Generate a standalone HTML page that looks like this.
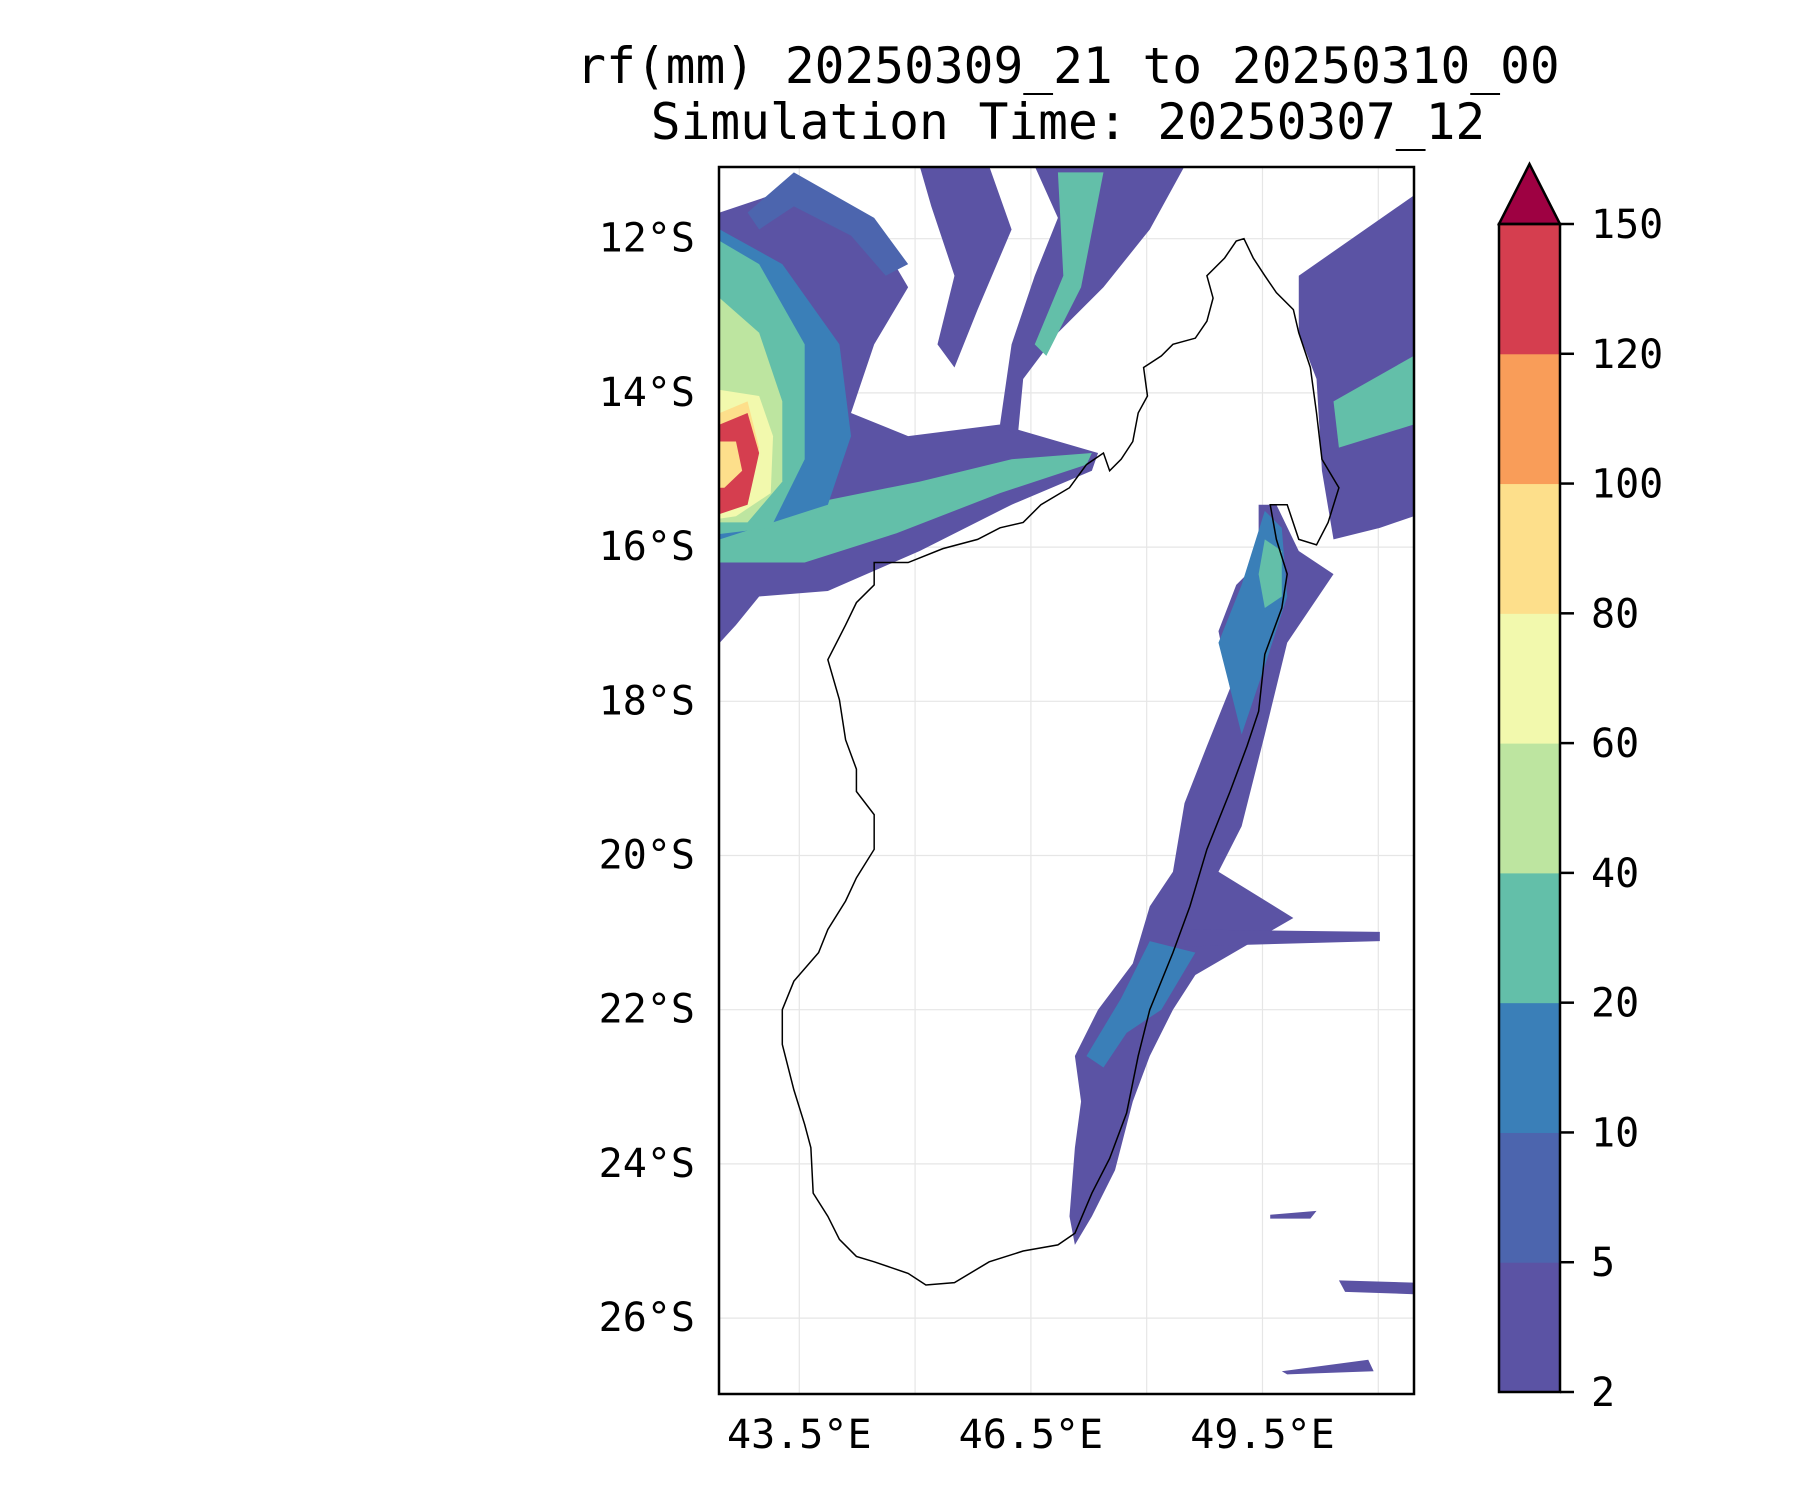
<!DOCTYPE html>
<html><head><meta charset="utf-8"><style>
html,body{margin:0;padding:0;background:#fff}
svg text{font-family:"DejaVu Sans Mono","Liberation Mono",monospace;fill:#000}
</style></head><body>
<svg id="chart" width="1800" height="1500" viewBox="0 0 1800 1500" xmlns="http://www.w3.org/2000/svg">
<text x="1068" y="83" font-size="49.5" text-anchor="middle">rf(mm) 20250309_21 to 20250310_00</text>
<text x="1068" y="139" font-size="49.5" text-anchor="middle">Simulation Time: 20250307_12</text>
<defs><clipPath id="axclip"><rect x="719" y="167" width="695" height="1227"/></clipPath></defs>
<g id="grid"></g>
<g id="rain" clip-path="url(#axclip)"></g>
<g id="coast" clip-path="url(#axclip)"></g>
<rect x="719" y="167" width="695" height="1227" fill="none" stroke="#000" stroke-width="2.5"/>
<g id="axes"></g>
<g id="cbar"></g>
</svg>
<script>
const levels=[2,5,10,20,40,60,80,100,120,150];
const levelColors=["#5b53a4","#4c65ae","#3a7fb8","#63bfa9","#bde5a0","#f2f9ad","#fddf8b","#f99d59","#d53e4f"];
const extendColor="#9e0142";
const latTicks=[12,14,16,18,20,22,24,26];
const lonTicks=[43.5,46.5,49.5];
const lonGrid=[43.5,45,46.5,48,49.5,51];
const coastline=[[49.26,12.0],[49.38,12.25],[49.53,12.48],[49.68,12.70],[49.90,12.92],[49.97,13.22],[50.12,13.67],[50.20,14.26],[50.27,14.86],[50.49,15.23],[50.35,15.68],[50.20,15.97],[49.97,15.90],[49.82,15.45],[49.60,15.45],[49.68,15.90],[49.82,16.35],[49.75,16.79],[49.53,17.39],[49.45,18.13],[49.30,18.58],[49.08,19.17],[48.78,19.92],[48.56,20.66],[48.34,21.26],[48.04,22.00],[47.89,22.60],[47.74,23.34],[47.52,23.93],[47.29,24.38],[47.07,24.90],[46.85,25.05],[46.40,25.13],[45.96,25.27],[45.51,25.54],[45.14,25.57],[44.91,25.42],[44.47,25.27],[44.24,25.20],[44.02,24.98],[43.87,24.68],[43.68,24.38],[43.65,23.79],[43.57,23.49],[43.43,23.04],[43.28,22.45],[43.28,22.00],[43.43,21.63],[43.75,21.26],[43.87,20.96],[44.10,20.59],[44.24,20.29],[44.47,19.92],[44.47,19.47],[44.24,19.17],[44.24,18.88],[44.10,18.50],[44.02,17.98],[43.87,17.46],[44.10,17.01],[44.24,16.72],[44.47,16.49],[44.47,16.20],[44.91,16.20],[45.36,16.02],[45.81,15.90],[46.10,15.75],[46.40,15.68],[46.63,15.45],[47.00,15.23],[47.22,14.93],[47.44,14.78],[47.52,15.01],[47.67,14.86],[47.82,14.63],[47.89,14.26],[48.01,14.04],[47.96,13.67],[48.19,13.52],[48.34,13.37],[48.63,13.29],[48.78,13.07],[48.86,12.77],[48.78,12.48],[49.01,12.25],[49.16,12.03]];
const rainLevels=[0,3,2,3,4,5,6,8,6,0,0,3,1,0,2,3,2,0,3,0,0,0,0];
const rainShapes=[
[[42.47,11.66],[43.57,11.29],[44.47,11.88],[44.91,12.63],[44.47,13.37],[44.17,14.26],[44.91,14.56],[46.10,14.41],[47.37,14.78],[47.29,15.01],[46.25,15.45],[45.06,16.05],[43.87,16.57],[42.98,16.64],[42.68,17.01],[42.47,17.24]],
[[42.47,15.45],[43.57,15.45],[45.06,15.15],[46.25,14.86],[47.29,14.78],[47.22,14.93],[46.10,15.30],[44.76,15.82],[43.57,16.20],[42.47,16.20]],
[[42.47,11.88],[43.28,12.33],[44.02,13.37],[44.17,14.56],[43.87,15.45],[42.47,15.90]],
[[42.47,12.03],[42.98,12.33],[43.57,13.37],[43.57,14.86],[43.13,15.75],[42.47,15.83]],
[[42.47,12.77],[42.98,13.22],[43.28,14.11],[43.28,15.15],[42.83,15.68],[42.47,15.68]],
[[42.47,13.96],[42.98,14.04],[43.16,14.56],[43.13,15.30],[42.68,15.60],[42.47,15.63]],
[[42.47,14.26],[42.83,14.11],[42.98,14.71],[42.83,15.33],[42.47,15.48]],
[[42.47,14.41],[42.83,14.26],[42.98,14.78],[42.83,15.45],[42.47,15.57]],
[[42.47,14.63],[42.68,14.63],[42.76,15.01],[42.53,15.23],[42.47,15.23]],
[[45.06,11.06],[45.96,11.06],[46.25,11.88],[45.81,12.92],[45.51,13.67],[45.29,13.37],[45.51,12.48],[45.21,11.58]],
[[46.55,11.06],[48.49,11.06],[48.04,11.88],[47.44,12.63],[46.85,13.22],[46.40,13.82],[46.33,14.56],[46.10,14.41],[46.25,13.37],[46.55,12.48],[46.85,11.73]],
[[46.85,11.14],[47.44,11.14],[47.15,12.63],[46.70,13.52],[46.55,13.37],[46.92,12.48]],
[[42.83,11.66],[43.43,11.14],[44.47,11.73],[44.91,12.33],[44.62,12.48],[44.17,11.96],[43.43,11.58],[42.98,11.88]],
[[49.45,15.45],[49.68,15.45],[49.97,16.05],[50.42,16.35],[49.82,17.24],[49.53,18.43],[49.23,19.62],[48.93,20.21],[49.90,20.81],[48.63,21.55],[48.34,22.00],[48.04,22.60],[47.82,23.19],[47.59,24.08],[47.29,24.68],[47.07,25.05],[47.00,24.68],[47.07,23.79],[47.15,23.19],[47.07,22.60],[47.37,22.00],[47.82,21.40],[48.04,20.66],[48.34,20.21],[48.49,19.32],[48.78,18.58],[49.08,17.83],[48.93,17.09],[49.16,16.49],[49.45,16.20]],
[[49.53,15.53],[49.75,15.75],[49.82,16.64],[49.53,17.54],[49.23,18.43],[49.08,17.83],[48.93,17.24],[49.23,16.49]],
[[49.53,15.90],[49.75,16.05],[49.75,16.64],[49.53,16.79],[49.45,16.35]],
[[48.04,21.11],[48.63,21.26],[48.19,22.00],[47.74,22.30],[47.44,22.75],[47.22,22.60],[47.67,21.85]],
[[49.97,12.48],[51.46,11.44],[51.46,15.60],[51.02,15.75],[50.42,15.90],[50.27,15.01],[50.20,13.82],[49.97,13.22]],
[[50.42,14.11],[51.46,13.52],[51.46,14.41],[50.49,14.71]],
[[50.49,25.51],[51.46,25.54],[51.46,25.69],[50.57,25.66]],
[[49.75,26.69],[50.87,26.54],[50.94,26.69],[49.82,26.73]],
[[49.60,24.66],[50.20,24.61],[50.12,24.71],[49.60,24.71]],
[[48.49,20.96],[51.02,20.99],[51.02,21.11],[48.49,21.18]]
];
const NS="http://www.w3.org/2000/svg";
const X=lon=>719+(lon-42.46)*77.2;
const Y=lat=>167+(lat-11.07)*77.1;
function mk(tag,attrs,parent){const e=document.createElementNS(NS,tag);for(const k in attrs)e.setAttribute(k,attrs[k]);parent.appendChild(e);return e;}
const grid=document.getElementById('grid'),rain=document.getElementById('rain'),coast=document.getElementById('coast'),axes=document.getElementById('axes'),cbar=document.getElementById('cbar');
latTicks.forEach(t=>{const l=mk('line',{x1:719,x2:1414,y1:Y(t),y2:Y(t),stroke:'#e6e6e6','stroke-width':1.2},grid);

});
lonGrid.forEach(t=>{const l=mk('line',{x1:X(t),x2:X(t),y1:167,y2:1394,stroke:'#e6e6e6','stroke-width':1.2},grid);

});
rainShapes.forEach((pts,i)=>{const p=mk('polygon',{points:pts.map(q=>X(q[0])+','+Y(q[1])).join(' '),fill:levelColors[rainLevels[i]]},rain);

});
const c=mk('polygon',{points:coastline.map(q=>X(q[0])+','+Y(q[1])).join(' '),fill:'none',stroke:'#000','stroke-width':1.5},coast);


latTicks.forEach(t=>{const tx=mk('text',{x:695,y:Y(t)+13,'font-size':40,'text-anchor':'end'},axes);tx.textContent=t+'°S';

});
lonTicks.forEach(t=>{const tx=mk('text',{x:X(t),y:1448,'font-size':40,'text-anchor':'middle'},axes);tx.textContent=t+'°E';

});
const cb0=1392,cbH=(1392-224)/9,cbL=1499,cbR=1560;
levelColors.forEach((col,i)=>{const r=mk('rect',{x:cbL,y:cb0-(i+1)*cbH,width:cbR-cbL,height:cbH+0.5,fill:col},cbar);

});
const tri=mk('polygon',{points:`${cbL},224 ${(cbL+cbR)/2},164 ${cbR},224`,fill:extendColor,stroke:'#000','stroke-width':2.5},cbar);


const fr=mk('rect',{x:cbL,y:224,width:cbR-cbL,height:cb0-224,fill:'none',stroke:'#000','stroke-width':2.5},cbar);


levels.forEach((v,i)=>{const y=cb0-i*cbH;mk('line',{x1:cbR,x2:cbR+14,y1:y,y2:y,stroke:'#000','stroke-width':2.5},cbar);
const tx=mk('text',{x:1591,y:y+14,'font-size':40},cbar);tx.textContent=v;

});
</script>
</body></html>
